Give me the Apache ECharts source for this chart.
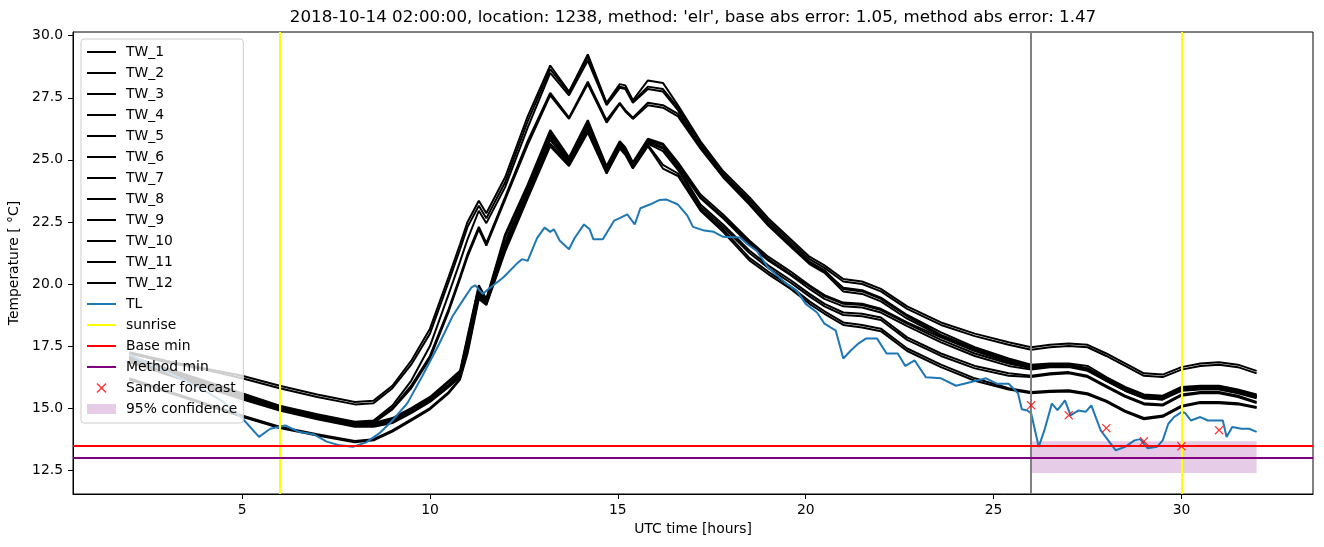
<!DOCTYPE html>
<html><head><meta charset="utf-8">
<script src="https://cdn.jsdelivr.net/npm/echarts@6.0.0/dist/echarts.min.js"></script>
<style>html,body{margin:0;padding:0;background:#fff}#c{width:1324px;height:547px}</style>
</head><body><div id="c"></div>
<script>
const TITLE = "2018-10-14 02:00:00, location: 1238, method: 'elr', base abs error: 1.05, method abs error: 1.47";
const X_NAME = 'UTC time [hours]';
const Y_NAME = 'Temperature [ °C]';
const X_TICKS = [5, 10, 15, 20, 25, 30];
const Y_TICKS = [12.5, 15, 17.5, 20, 22.5, 25, 27.5, 30];

const TW_X = [2,3,4,5,6,7,8,8.5,9,9.5,10,10.5,10.8,11,11.3,11.5,12,12.6,13.2,13.7,14.2,14.7,15.05,15.2,15.4,15.8,16.2,16.6,17.2,17.8,18.5,19,19.6,20.1,20.5,21,21.5,22,22.7,23.6,24.5,25.4,26,26.5,27,27.5,28,28.5,29,29.5,30,30.5,31,31.5,32];
const TW_1 = [17.25,16.9,16.6,16.3,15.9,15.55,15.25,15.3,15.9,16.9,18.2,20.3,21.6,22.5,23.35,22.85,24.3,26.75,28.8,27.75,29.25,27.3,28.05,28.0,27.4,28.2,28.1,27.2,25.75,24.55,23.5,22.65,21.8,21.1,20.75,20.2,20.1,19.8,19.1,18.45,18.0,17.65,17.45,17.55,17.6,17.55,17.2,16.8,16.4,16.35,16.65,16.8,16.85,16.75,16.5];
const TW_2 = [17.2,16.85,16.55,16.2,15.8,15.45,15.15,15.2,15.8,16.75,18.0,20.1,21.4,22.3,23.15,22.65,24.1,26.55,28.65,27.7,29.15,27.25,27.95,27.9,27.35,27.95,27.85,27.1,25.65,24.45,23.4,22.55,21.7,21.0,20.65,20.1,20.0,19.7,19.0,18.35,17.9,17.55,17.35,17.45,17.5,17.45,17.1,16.7,16.3,16.25,16.55,16.7,16.75,16.65,16.4];
const TW_3 = [17.1,16.6,16.1,15.6,15.1,14.75,14.45,14.5,15.1,16.1,17.5,19.6,20.9,21.8,22.95,22.45,23.9,26.3,28.5,27.6,29.0,27.2,27.9,27.85,27.3,27.85,27.75,27.0,25.5,24.35,23.25,22.4,21.55,20.85,20.5,19.85,19.75,19.45,18.75,18.05,17.45,17.0,16.75,16.8,16.8,16.7,16.25,15.85,15.55,15.5,15.85,15.9,15.9,15.75,15.55];
const TW_4 = [17.05,16.55,16.05,15.55,15.05,14.7,14.4,14.45,15.0,15.9,17.1,19.0,20.3,21.2,22.3,21.65,23.5,25.75,27.7,26.7,28.15,26.6,27.3,27.0,26.7,27.3,27.2,26.85,25.55,24.4,23.3,22.45,21.6,20.9,20.55,19.8,19.7,19.4,18.7,17.95,17.4,16.95,16.7,16.75,16.75,16.6,16.15,15.75,15.45,15.4,15.8,15.85,15.85,15.7,15.5];
const TW_5 = [17.0,16.5,16.0,15.5,15.0,14.65,14.35,14.4,14.95,15.8,17.0,18.9,20.2,21.1,22.2,21.55,23.4,25.6,27.6,26.65,28.05,26.5,27.25,26.95,26.65,27.2,27.1,26.75,25.45,24.3,23.2,22.35,21.5,20.8,20.45,19.7,19.6,19.3,18.6,17.9,17.35,16.9,16.65,16.7,16.7,16.55,16.1,15.7,15.4,15.35,15.75,15.8,15.8,15.65,15.45];
const TW_6 = [17.05,16.55,16.05,15.55,15.05,14.7,14.4,14.4,14.6,15.0,15.45,16.1,16.5,17.9,19.95,19.4,22.0,24.0,26.2,25.1,26.6,24.75,25.75,25.5,24.9,25.85,25.65,24.9,23.6,22.8,21.75,21.1,20.5,19.95,19.55,19.25,19.2,19.0,18.45,17.85,17.3,16.85,16.65,16.75,16.75,16.6,16.2,15.8,15.5,15.45,15.8,15.85,15.85,15.7,15.5];
const TW_7 = [17.0,16.5,16.0,15.5,15.0,14.65,14.35,14.35,14.55,14.95,15.4,16.05,16.45,17.8,19.9,19.35,21.9,23.9,26.1,25.0,26.5,24.7,25.7,25.45,24.85,25.8,25.6,24.85,23.5,22.7,21.7,21.0,20.4,19.9,19.5,19.2,19.15,18.95,18.4,17.75,17.2,16.8,16.6,16.7,16.7,16.55,16.15,15.75,15.45,15.4,15.75,15.8,15.8,15.65,15.45];
const TW_8 = [16.95,16.45,15.95,15.45,14.95,14.6,14.3,14.3,14.5,14.9,15.35,15.95,16.4,17.7,19.8,19.3,21.7,23.8,26.0,24.95,26.4,24.65,25.65,25.4,24.8,25.75,25.5,24.75,23.45,22.65,21.6,20.95,20.35,19.8,19.4,19.1,19.05,18.85,18.3,17.65,17.1,16.7,16.55,16.65,16.65,16.5,16.1,15.7,15.4,15.35,15.7,15.75,15.75,15.6,15.4];
const TW_9 = [16.9,16.4,15.9,15.4,14.95,14.6,14.3,14.3,14.45,14.85,15.3,15.9,16.3,17.5,19.7,19.25,21.6,23.7,25.9,24.9,26.35,24.6,25.6,25.35,24.75,25.7,25.45,24.7,23.2,22.4,21.35,20.75,20.15,19.6,19.2,18.85,18.8,18.65,17.85,17.2,16.7,16.4,16.3,16.4,16.45,16.3,15.9,15.5,15.2,15.15,15.55,15.65,15.65,15.5,15.25];
const TW_10 = [16.85,16.35,15.85,15.35,14.9,14.55,14.25,14.25,14.4,14.8,15.25,15.85,16.25,17.4,19.6,19.2,21.5,23.6,25.8,24.85,26.3,24.55,25.55,25.3,24.7,25.65,25.35,24.6,23.1,22.3,21.25,20.65,20.05,19.5,19.1,18.75,18.7,18.55,17.75,17.1,16.6,16.3,16.25,16.35,16.4,16.25,15.85,15.45,15.15,15.1,15.5,15.6,15.6,15.45,15.2];
const TW_11 = [16.2,15.7,15.2,14.7,14.25,13.95,13.68,13.75,14.1,14.55,15.0,15.65,16.2,17.3,19.5,19.2,21.4,23.55,25.65,24.8,26.2,24.5,25.5,25.25,24.7,25.6,24.8,24.45,23.0,22.2,21.05,20.5,19.9,19.3,18.9,18.45,18.35,18.2,17.4,16.75,16.2,15.8,15.65,15.7,15.72,15.6,15.3,14.9,14.6,14.7,15.1,15.25,15.25,15.2,15.05];
const TW_12 = [16.15,15.65,15.15,14.65,14.2,13.9,13.62,13.7,14.05,14.5,14.95,15.6,16.15,17.2,19.4,19.15,21.3,23.45,25.55,24.75,26.1,24.45,25.45,25.2,24.65,25.55,24.65,24.35,22.95,22.1,20.95,20.4,19.8,19.2,18.8,18.35,18.25,18.1,17.3,16.65,16.1,15.75,15.6,15.65,15.67,15.55,15.25,14.85,14.55,14.65,15.05,15.2,15.2,15.15,15.0];

const TL_X = [2,2.5,3,3.5,4,4.5,5,5.45,5.75,6.15,6.5,6.9,7.25,7.6,7.95,8.3,8.65,9.0,9.4,9.8,10.25,10.6,10.9,11.1,11.2,11.4,11.6,11.95,12.3,12.45,12.6,12.85,13.05,13.2,13.3,13.45,13.7,13.85,14.1,14.25,14.35,14.6,14.9,15.05,15.25,15.35,15.45,15.6,15.85,16.1,16.3,16.6,16.85,17.0,17.3,17.55,17.8,18.25,18.45,18.7,19.0,19.3,19.5,19.75,20.0,20.3,20.5,20.8,21.0,21.2,21.4,21.6,21.9,22.15,22.45,22.65,22.9,23.2,23.6,24.0,24.4,24.8,25.1,25.4,25.65,25.75,25.9,26.0,26.2,26.35,26.55,26.7,26.9,27.05,27.25,27.45,27.6,27.85,28.05,28.25,28.5,28.75,28.9,29.1,29.35,29.5,29.65,29.8,30.0,30.1,30.25,30.5,30.7,30.95,31.1,31.2,31.35,31.6,31.8,32.0];
const TL_Y = [17.15,16.8,16.45,16.1,15.7,15.25,14.6,13.84,14.17,14.3,14.05,13.95,13.65,13.5,13.44,13.62,13.98,14.5,15.2,16.3,17.6,18.7,19.4,19.85,19.95,19.6,19.85,20.26,20.8,21.0,20.93,21.85,22.27,22.1,22.2,21.75,21.4,21.85,22.4,22.2,21.8,21.8,22.55,22.65,22.8,22.6,22.4,23.05,23.2,23.38,23.4,23.2,22.75,22.3,22.15,22.1,21.9,21.87,21.6,21.33,20.66,20.26,20.0,19.75,19.2,18.85,18.4,18.12,17.0,17.32,17.6,17.8,17.8,17.2,17.2,16.7,16.92,16.24,16.2,15.9,16.05,16.2,15.98,15.98,15.6,14.95,14.9,14.78,13.44,14.1,15.18,14.92,15.31,14.71,14.9,14.85,15.11,14.1,13.7,13.3,13.44,13.7,13.75,13.38,13.44,13.7,14.37,14.64,14.84,14.8,14.5,14.64,14.5,14.5,14.5,13.84,14.24,14.17,14.17,14.04];

const SUNRISE_X = [6, 30];
const NOW_X = 26;
const BASE_MIN = 13.47;
const METHOD_MIN = 13.02;
const FORECAST_X = [26, 27, 28, 29, 30, 31];
const FORECAST_Y = [15.11, 14.71, 14.19, 13.66, 13.46, 14.11];
const CONF_X = [26, 32];
const CONF_Y = [12.39, 13.66];

const FONT = 'DejaVu Sans';
const TW = [TW_1, TW_2, TW_3, TW_4, TW_5, TW_6, TW_7, TW_8, TW_9, TW_10, TW_11, TW_12];
const LINE_ICON = 'path://M0,0L29,0L29,2L0,2Z';
const X_ICON = 'path://M0,1L1,0L5,4L9,0L10,1L6,5L10,9L9,10L5,6L1,10L0,9L4,5Z';

const series = [];
TW.forEach((arr, i) => series.push({
  name: 'TW_' + (i + 1), type: 'line', symbol: 'none', color: '#000000',
  lineStyle: { color: '#000000', width: 2 }, z: 2,
  data: TW_X.map((x, j) => [x, arr[j]])
}));
series.push({
  name: 'TL', type: 'line', symbol: 'none', color: '#1f77b4',
  lineStyle: { color: '#1f77b4', width: 2 }, z: 3,
  data: TL_X.map((x, j) => [x, TL_Y[j]])
});
function ml(data, color) {
  return { silent: true, symbol: ['none', 'none'], label: { show: false },
    lineStyle: { color: color, width: 2, type: 'solid' }, emphasis: { disabled: true },
    animation: false, data: data };
}
series.push({ name: 'sunrise', type: 'line', data: [], color: '#ffff00', markLine: ml(SUNRISE_X.map(v => ({ xAxis: v })), '#ffff00') });
series.push({ name: 'now', type: 'line', data: [], color: '#808080', markLine: ml([{ xAxis: NOW_X }], '#808080') });
series.push({ name: 'Base min', type: 'line', data: [], color: '#ff0000', markLine: ml([{ yAxis: BASE_MIN }], '#ff0000') });
series.push({ name: 'Method min', type: 'line', data: [], color: '#800080', markLine: ml([{ yAxis: METHOD_MIN }], '#800080') });
series.push({
  name: 'Sander forecast', type: 'scatter', symbol: X_ICON, symbolSize: 9, z: 6,
  itemStyle: { color: '#ff0000' },
  data: FORECAST_X.map((x, j) => [x, FORECAST_Y[j]])
});
series.push({
  name: '95% confidence', type: 'custom', z: 1,
  itemStyle: { color: 'rgba(128,0,128,0.2)' },
  encode: { x: [0, 1], y: [2, 3] },
  data: [[CONF_X[0], CONF_X[1], CONF_Y[0], CONF_Y[1]]],
  renderItem: function (params, api) {
    const p0 = api.coord([api.value(0), api.value(3)]);
    const p1 = api.coord([api.value(1), api.value(2)]);
    return { type: 'rect', shape: { x: p0[0], y: p0[1], width: p1[0] - p0[0], height: p1[1] - p0[1] },
      style: { fill: 'rgba(128,0,128,0.2)' } };
  }
});

const legendData = TW.map((a, i) => ({ name: 'TW_' + (i + 1), icon: LINE_ICON }))
  .concat([
    { name: 'TL', icon: LINE_ICON },
    { name: 'sunrise', icon: LINE_ICON },
    { name: 'Base min', icon: LINE_ICON },
    { name: 'Method min', icon: LINE_ICON },
    { name: 'Sander forecast', icon: X_ICON },
    { name: '95% confidence', icon: 'rect' }
  ]);

const axisCommon = {
  type: 'value', splitLine: { show: false },
  axisLine: { show: true, onZero: false, lineStyle: { color: '#000', width: 1 } },
  nameTextStyle: { color: '#000', fontSize: 13.9, fontFamily: FONT },
};
const chart = echarts.init(document.getElementById('c'), null, { renderer: 'canvas' });
chart.setOption({
  animation: false,
  backgroundColor: '#ffffff',
  title: { text: TITLE, left: 693, top: 9, padding: 0, textAlign: 'center',
    textStyle: { fontFamily: FONT, fontSize: 16.7, fontWeight: 'normal', color: '#000' } },
  grid: { left: 73, right: 11, top: 32, bottom: 53, show: true, borderColor: '#000', borderWidth: 1, outerBoundsMode: 'none' },
  legend: {
    orient: 'vertical', left: 81, top: 39, padding: [6, 6, 7, 6],
    itemWidth: 29, itemHeight: 10, itemGap: 7.0, selectedMode: false,
    backgroundColor: 'rgba(255,255,255,0.8)', borderColor: '#cccccc', borderWidth: 1, borderRadius: 3,
    itemStyle: { borderWidth: 0 },
    textStyle: { fontFamily: FONT, fontSize: 13.9, color: '#000', lineHeight: 14, padding: [0, 0, 0, 5] },
    data: legendData
  },
  xAxis: Object.assign({}, axisCommon, {
    min: 0.5, max: 33.5, name: X_NAME, nameLocation: 'middle', nameGap: 27,
    axisTick: { show: true, length: 5, lineStyle: { color: '#000' }, customValues: X_TICKS },
    axisLabel: { color: '#000', fontFamily: FONT, fontSize: 13.9, margin: 9, customValues: X_TICKS }
  }),
  yAxis: Object.assign({}, axisCommon, {
    min: 11.54, max: 30.15, name: Y_NAME, nameLocation: 'middle', nameGap: 48,
    axisTick: { show: true, length: 5, lineStyle: { color: '#000' }, customValues: Y_TICKS },
    axisLabel: { color: '#000', fontFamily: FONT, fontSize: 13.9, margin: 10, customValues: Y_TICKS,
      formatter: v => Number(v).toFixed(1) }
  }),
  series: series
});
</script></body></html>
